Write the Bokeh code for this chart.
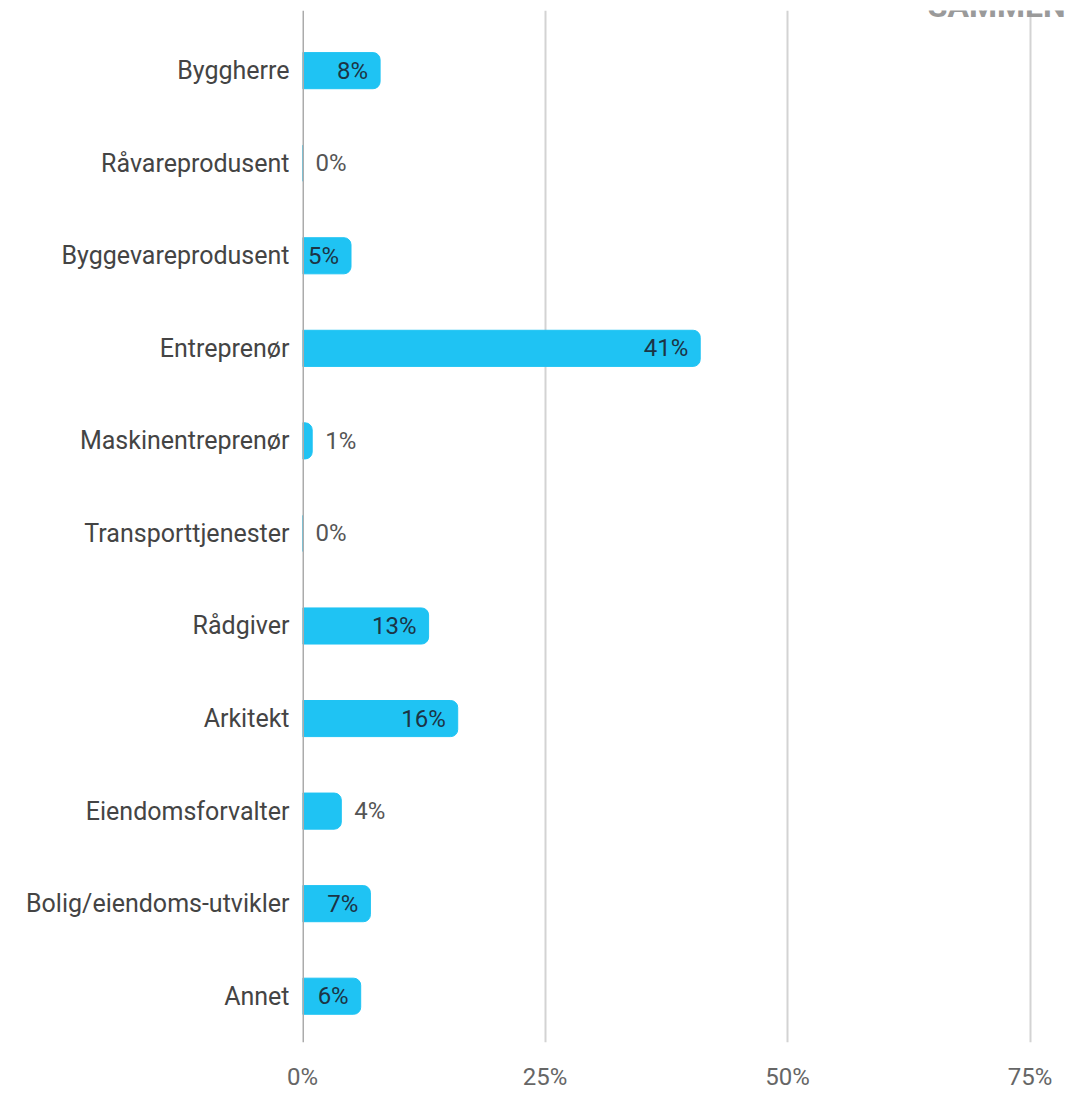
from bokeh.plotting import figure
from bokeh.models import ColumnDataSource, Range1d, FixedTicker, Label
from bokeh.core.properties import value
from bokeh.embed import file_html
from bokeh.resources import INLINE

categories = ["Byggherre", "Råvareprodusent", "Byggevareprodusent", "Entreprenør",
              "Maskinentreprenør", "Transporttjenester", "Rådgiver", "Arkitekt",
              "Eiendomsforvalter", "Bolig/eiendoms-utvikler", "Annet"]
values = [8, 0, 5, 41, 1, 0, 13, 16, 4, 7, 6]
x_ticks = [0, 25, 50, 75]
x_tick_labels = ["0%", "25%", "50%", "75%"]
title_text = "SAMMEN"

FONT = "Roboto"
BAR = "#1fc3f3"
XMAX = 78.76

pos = list(range(len(categories)))
labels = [f"{v}%" for v in values]
inside = [v >= 5 for v in values]

src_bar = ColumnDataSource(dict(y=pos, v=values))
src_in = ColumnDataSource(dict(y=[p for p, i in zip(pos, inside) if i],
                               v=[v for v, i in zip(values, inside) if i],
                               t=[t for t, i in zip(labels, inside) if i]))
src_out = ColumnDataSource(dict(y=[p for p, i in zip(pos, inside) if not i],
                                v=[v for v, i in zip(values, inside) if not i],
                                t=[t for t, i in zip(labels, inside) if not i]))

p = figure(frame_width=764, frame_height=1032, output_backend="svg", toolbar_location=None,
           x_range=Range1d(0, XMAX), y_range=Range1d(10.5, -0.65),
           min_border_left=302, min_border_right=0, min_border_top=10, min_border_bottom=6)
p.outline_line_color = None
p.background_fill_color = "white"
p.border_fill_color = "white"

# grid
p.ygrid.grid_line_color = None
p.xgrid.ticker = FixedTicker(ticks=x_ticks[1:])
p.xgrid.grid_line_color = "#d3d3d3"
p.xgrid.grid_line_width = 2

p.hbar(y="y", right="v", left=0, height=0.39, source=src_bar, color=BAR,
       border_radius=(0, 7, 7, 0))

# zero line
p.segment(x0=[0], x1=[0], y0=[10.5], y1=[-0.65], line_color="#ababab", line_width=3)

p.text(x="v", y="y", text="t", source=src_in, x_offset=-12, text_align="right",
       text_baseline="middle", text_font=value(FONT), text_font_size="24px",
       text_color="#1c3445")
p.text(x="v", y="y", text="t", source=src_out, x_offset=13, text_align="left",
       text_baseline="middle", text_font=value(FONT), text_font_size="24px",
       text_color="#555555")

# axes
p.yaxis.ticker = FixedTicker(ticks=pos)
p.yaxis.major_label_overrides = {i: c for i, c in enumerate(categories)}
p.yaxis.axis_line_color = None
p.yaxis.major_tick_line_color = None
p.yaxis.minor_tick_line_color = None
p.yaxis.major_label_standoff = 7
p.yaxis.major_label_text_font = FONT
p.yaxis.major_label_text_font_size = "25px"
p.yaxis.major_label_text_color = "#444444"

p.xaxis.ticker = FixedTicker(ticks=x_ticks)
p.xaxis.major_label_overrides = {t: l for t, l in zip(x_ticks, x_tick_labels)}
p.xaxis.axis_line_color = None
p.xaxis.major_tick_line_color = None
p.xaxis.minor_tick_line_color = None
p.xaxis.major_label_standoff = 14
p.xaxis.major_label_text_font = FONT
p.xaxis.major_label_text_font_size = "24px"
p.xaxis.major_label_text_color = "#666666"

p.add_layout(Label(x=XMAX, y=-0.65, text=title_text, x_offset=-1, y_offset=5,
                   text_align="right", text_baseline="alphabetic", text_font=FONT,
                   text_font_size="32px", text_font_style="bold", text_color="#9a9a9a"))

open("out.html", "w").write(file_html(p, INLINE))
